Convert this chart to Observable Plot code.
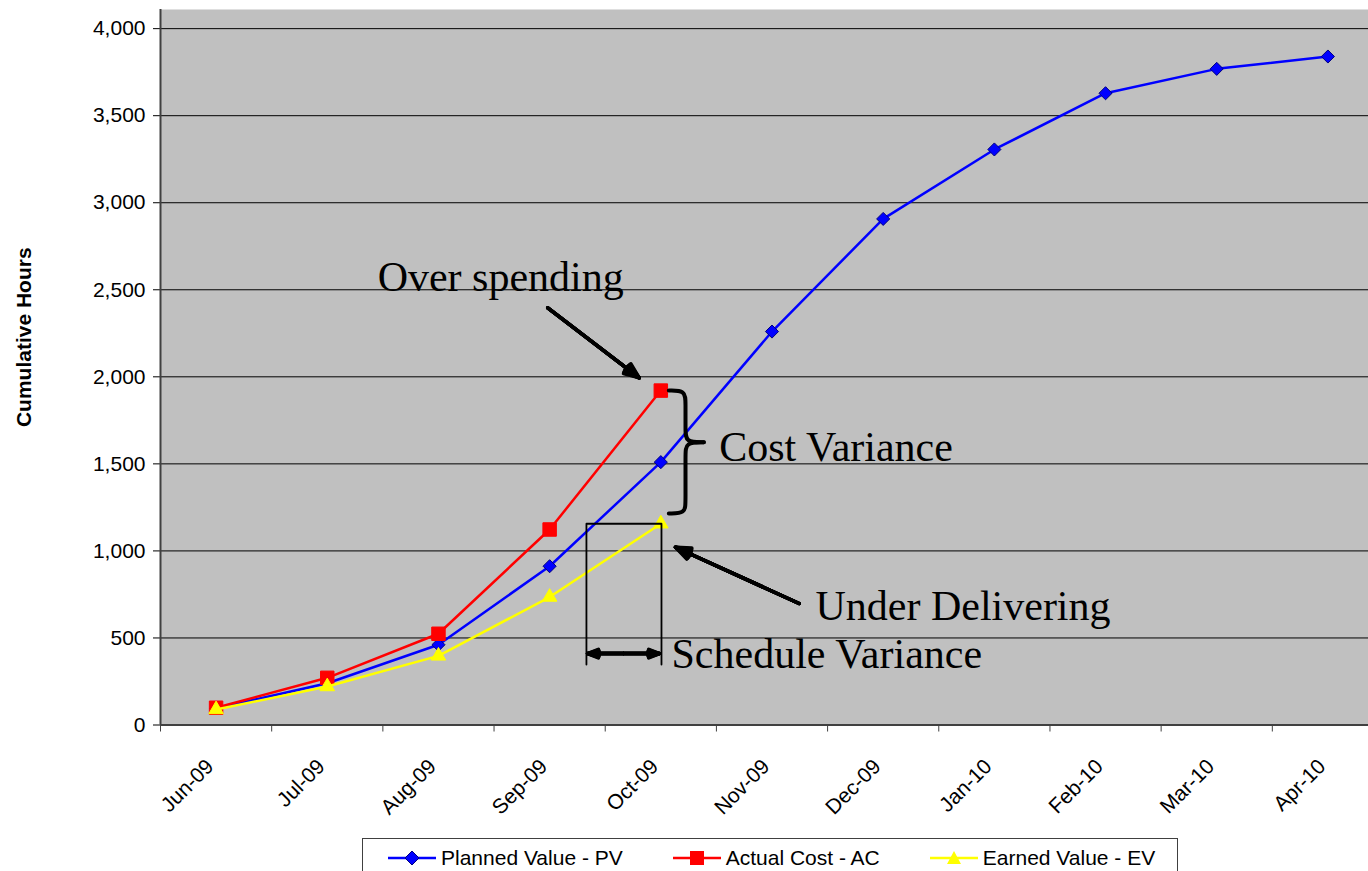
<!DOCTYPE html>
<html>
<head>
<meta charset="utf-8">
<script src="https://cdn.jsdelivr.net/npm/d3@7"></script>
<script src="https://cdn.jsdelivr.net/npm/@observablehq/plot@0.6"></script>
<style>
  html, body { margin: 0; padding: 0; background: #fff; overflow: hidden; }
  #wrap { position: relative; width: 1368px; height: 871px; overflow: hidden; }
  #wrap svg.plot { display: block; }
  .legend {
    position: absolute; left: 362px; top: 838px; height: 40px;
    box-sizing: border-box; border: 1px solid #404040; background: #fff;
    display: flex; align-items: center; padding: 0 22px 0 25px;
    font: 21px "Liberation Sans", Arial, sans-serif; color: #000; white-space: nowrap;
  }
  .legend .item { display: flex; align-items: center; margin-right: 50px; }
  .legend .item:last-child { margin-right: 0; }
  .legend svg { margin-right: 5px; }
</style>
</head>
<body>
<div id="wrap"></div>
<script>
// ---- data ----
const months = ["Jun-09","Jul-09","Aug-09","Sep-09","Oct-09","Nov-09","Dec-09","Jan-10","Feb-10","Mar-10","Apr-10"];
const plannedValue = [95, 240, 461, 912, 1510, 2260, 2907, 3306, 3629, 3769, 3840];
const actualCost   = [99, 271, 524, 1123, 1921];
const earnedValue  = [89, 221, 397, 735, 1156];
const yTicks = [0, 500, 1000, 1500, 2000, 2500, 3000, 3500, 4000];
const seriesNames = ["Planned Value - PV", "Actual Cost - AC", "Earned Value - EV"];

// annotation texts (placed in data units: month index, hours)
const annoLabels = ["Over spending", "Cost Variance", "Under Delivering", "Schedule Variance"];
const annoIdx    = [1.453, 4.525, 5.391, 4.096];
const annoHours  = [2570, 1594, 681, 405];

const serif = "'Liberation Serif','Times New Roman',serif";
const sans = "'Liberation Sans',Arial,sans-serif";

const rows = vals => vals.map((v, i) => ({i, month: months[i], v}));
const pv = rows(plannedValue), ac = rows(actualCost), ev = rows(earnedValue);
const annotations = annoLabels.map((label, k) => ({label, i: annoIdx[k], v: annoHours[k]}));

// arrows (data units)
const pointerArrows = [
  {i1: 2.983, v1: 2396, i2: 3.806, v2: 1994},
  {i1: 5.244, v1: 698,  i2: 4.132, v2: 1021}
];
const scheduleArrows = [
  {i1: 3.665, v1: 410, i2: 3.341, v2: 410},
  {i1: 3.665, v1: 410, i2: 3.989, v2: 410}
];
const scheduleBox = [
  {i: 3.331, v: 347}, {i: 3.331, v: 1156}, {i: 4.006, v: 1156}, {i: 4.006, v: 347}
];
// curly brace between AC and EV at Oct-09
const bTop = 1921, bBot = 1215, bMid = 1624, bx0 = 4.072, bxs = 4.222, bxt = 4.387, q = 70;
const brace = [
  {part: "a", i: bx0, v: bTop}, {part: "a", i: bxs, v: bTop}, {part: "a", i: bxs, v: bTop - q},
  {part: "a", i: bxs, v: bMid + q}, {part: "a", i: bxs, v: bMid}, {part: "a", i: bxt, v: bMid},
  {part: "b", i: bxt, v: bMid}, {part: "b", i: bxs, v: bMid}, {part: "b", i: bxs, v: bMid - q},
  {part: "b", i: bxs, v: bBot + q}, {part: "b", i: bxs, v: bBot}, {part: "b", i: bx0, v: bBot}
];

const fanAngles = [44, 36, 28, 20, 12, 5];
const fan = (data, headLength) => fanAngles.map(a =>
  Plot.arrow(data, {x1: "i1", y1: "v1", x2: "i2", y2: "v2", stroke: "#000", strokeWidth: 3.5,
    headAngle: a, headLength}));

const series = (data, color, symbol, r, stroke) => [
  Plot.line(data, {x: "i", y: "v", stroke: color, strokeWidth: 2.5}),
  Plot.dot(data, {x: "i", y: "v", symbol, r, fill: color, stroke, strokeWidth: 1})
];

const boundaries = d3.range(12).map(k => k - 0.5);

const chart = Plot.plot({
  width: 1368, height: 836,
  marginLeft: 160, marginRight: 0, marginTop: 9, marginBottom: 111.5,
  x: {type: "linear", domain: [-0.5, 10.5], range: [160, 1383]},
  y: {domain: [0, 4110]},
  style: {fontFamily: sans, fontSize: "21px", color: "#000", background: "transparent", overflow: "hidden"},
  marks: [
    Plot.frame({fill: "#C0C0C0", stroke: null}),
    Plot.gridY(yTicks.filter(d => d > 0), {stroke: "#000", strokeOpacity: 1, strokeWidth: 1}),
    ...series(pv, "#0000FF", "diamond2", 5.9, "#000080"),
    ...series(ac, "#FF0000", "square", 7.6, "#FF0000"),
    ...series(ev, "#FFFF00", "triangle", 5.4, "#FFFF00"),
    // annotations
    Plot.line(scheduleBox, {x: "i", y: "v", stroke: "#000", strokeWidth: 1.8}),
    Plot.line(brace, {x: "i", y: "v", z: "part", curve: "basis", stroke: "#000", strokeWidth: 4}),
    ...fan(pointerArrows, 7),
    ...fan(scheduleArrows, 5),
    Plot.text(annotations, {x: "i", y: "v", text: "label", textAnchor: "start", lineAnchor: "middle",
      fontFamily: serif, fontSize: 42, fill: "#000"}),
    // axes
    Plot.axisY({ticks: yTicks, tickFormat: d3.format(","), tickSize: 7, tickPadding: 8, label: null,
      fontSize: 21, color: "#000"}),
    Plot.axisX(boundaries, {tickSize: 7, tickFormat: () => "", label: null, stroke: "#404040"}),
    Plot.axisX(d3.range(months.length), {tickSize: 0, tickPadding: 38, tickRotate: -45, dx: -6,
      tickFormat: i => months[i], label: null, fontSize: 21, color: "#000"}),
    Plot.ruleX([-0.5], {stroke: "#404040", strokeWidth: 2}),
    Plot.ruleY([0], {stroke: "#404040", strokeWidth: 2}),
    Plot.text(["Cumulative Hours"], {frameAnchor: "left", textAnchor: "middle", dx: -136, dy: -30, rotate: -90,
      fontSize: 21, fontWeight: "bold", fill: "#000"})
  ]
});
document.getElementById("wrap").appendChild(chart);

// legend
const legend = document.createElement("div");
legend.className = "legend";
const swatch = (color, shape) => {
  let m = "";
  if (shape === "diamond") m = `<polygon points="24,12 31,19 24,26 17,19" fill="${color}" stroke="#000080" stroke-width="1"/>`;
  if (shape === "square") m = `<rect x="17" y="12" width="14" height="14" fill="${color}"/>`;
  if (shape === "triangle") m = `<polygon points="24,12 31,25 17,25" fill="${color}"/>`;
  return `<svg width="48" height="38" viewBox="0 0 48 38"><line x1="0" y1="19" x2="48" y2="19" stroke="${color}" stroke-width="2.5"/>${m}</svg>`;
};
const legendSpec = [["#0000FF", "diamond"], ["#FF0000", "square"], ["#FFFF00", "triangle"]];
legend.innerHTML = seriesNames.map((name, k) =>
  `<div class="item">${swatch(legendSpec[k][0], legendSpec[k][1])}<span>${name}</span></div>`).join("");
document.getElementById("wrap").appendChild(legend);
</script>
</body>
</html>
